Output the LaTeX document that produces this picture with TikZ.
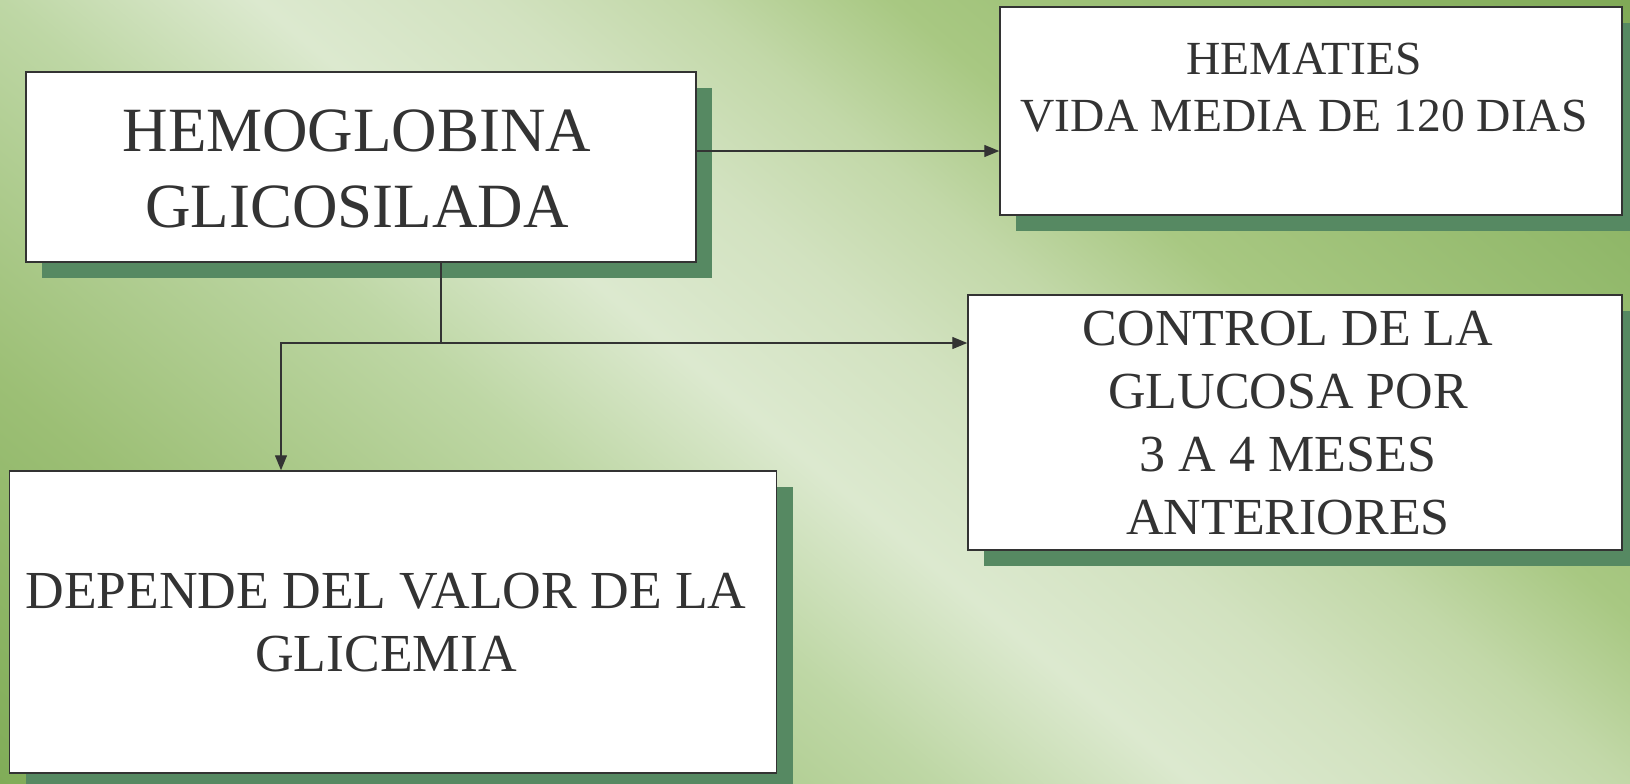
\documentclass[tikz,border=0pt]{standalone}
\usepackage{fontspec}
\setmainfont{Liberation Serif}
\usetikzlibrary{arrows.meta,shadows}
\definecolor{ink}{HTML}{333333}
\definecolor{shadowc}{RGB}{86,137,98}
\pgfdeclarehorizontalshading{bgshade}{100bp}{%
 rgb(0bp)=(0.471,0.651,0.314);
 rgb(25bp)=(0.471,0.651,0.314);
 rgb(30.85bp)=(0.502,0.675,0.345);
 rgb(38.6bp)=(0.612,0.749,0.459);
 rgb(45.9bp)=(0.745,0.843,0.647);
 rgb(50bp)=(0.863,0.914,0.812);
 rgb(53.75bp)=(0.824,0.886,0.753);
 rgb(57bp)=(0.761,0.847,0.659);
 rgb(60.2bp)=(0.659,0.784,0.510);
 rgb(66.9bp)=(0.569,0.722,0.416);
 rgb(75bp)=(0.463,0.627,0.294);
 rgb(100bp)=(0.463,0.627,0.294)}
\begin{document}
\begin{tikzpicture}[x=1pt,y=-1pt,
  box/.style={draw=ink, line width=1.5pt, fill=white, inner sep=0pt,
    general shadow={fill=shadowc, shadow xshift=16pt, shadow yshift=-16pt}},
  arr/.style={draw=ink, line width=1.4pt, -{Triangle[length=15pt,width=12pt]}},
  txt/.style={text=ink, align=center, inner sep=0pt}]
\useasboundingbox (0,0) rectangle (1630,784);
\begin{scope}
  \clip (0,0) rectangle (1630,784);
  \begin{scope}[transform canvas={shift={(705,375)}, rotate=50.1}]
    \shade[shading=bgshade] (-1000,-1000) rectangle (1000,1000);
  \end{scope}
\end{scope}
% boxes
\node[box, minimum width=670pt, minimum height=190pt] (hemo) at (361,167) {};
\node[box, minimum width=622pt, minimum height=208pt] (hema) at (1311,111) {};
\node[box, minimum width=654pt, minimum height=255pt] (ctrl) at (1295,422.5) {};
\node[box, minimum width=767pt, minimum height=302pt] (dep) at (393,622) {};
% texts
\node[txt, font=\fontsize{63}{76}\selectfont] (t1) at (357,169) {HEMOGLOBINA\\GLICOSILADA};
\node[txt, font=\fontsize{47.5}{57}\selectfont] (t2) at (1304,88) {HEMATIES\\VIDA MEDIA DE 120 DIAS};
\node[txt, font=\fontsize{52}{63}\selectfont] (t3) at (1288,423) {CONTROL DE LA\\GLUCOSA POR\\3 A 4 MESES\\ANTERIORES};
\node[txt, font=\fontsize{53.5}{63}\selectfont] (t4) at (386,623) {DEPENDE DEL VALOR DE LA\\GLICEMIA};
% connectors
\coordinate (j) at (441,343);
\draw[arr] ([yshift=16pt]hemo.east) -- ([yshift=16pt]hemo.east -| hema.west);
\draw[arr] (hemo.south -| j) -- (j) -- (j -| ctrl.west);
\draw[arr] (j) -| ([xshift=-112pt]dep.north);
\end{tikzpicture}
\end{document}
